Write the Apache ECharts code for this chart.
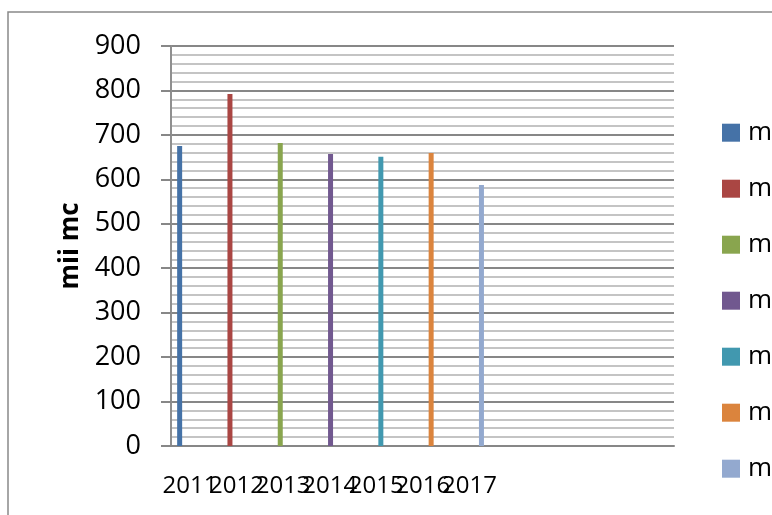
<!DOCTYPE html>
<html>
<head>
<meta charset="utf-8">
<script src="https://cdn.jsdelivr.net/npm/echarts@6/dist/echarts.min.js"></script>
<style>
html,body{margin:0;padding:0;background:#fff;}
#c{width:772px;height:515px;}
</style>
</head>
<body>
<div id="c"></div>
<script>
const years = ['2011', '2012', '2013', '2014', '2015', '2016', '2017'];
const values = [675, 792, 682, 657, 651, 659, 587];
const seriesNames = ['mii mc 2011', 'mii mc 2012', 'mii mc 2013', 'mii mc 2014', 'mii mc 2015', 'mii mc 2016', 'mii mc 2017'];
const colors = ['#4572A7', '#AA4643', '#89A54E', '#71588F', '#4198AF', '#DB843D', '#93A9CF'];
const yTicks = { min: 0, max: 900, interval: 100 };
const yTitle = 'mii mc';

const chart = echarts.init(document.getElementById('c'), null, { renderer: 'canvas' });

const series = seriesNames.map((name, i) => ({
  name: name,
  type: 'bar',
  stack: 'a',
  barWidth: 5,
  barGap: '560%',
  itemStyle: { color: colors[i] },
  data: years.map((y, j) => (j === i ? values[i] : '-')),
  xAxisIndex: 0,
  yAxisIndex: 0
}));
// empty slot series (Excel-style offset of the visible bar slot)
series.push({
  name: '_slot',
  type: 'bar',
  stack: 'b',
  barWidth: 5,
  barGap: '560%',
  data: years.map(() => '-'),
  xAxisIndex: 0,
  yAxisIndex: 0
});

const option = {
  backgroundColor: '#ffffff',
  animation: false,
  textStyle: { fontFamily: 'Open Sans' },
  graphic: [{
    type: 'rect',
    shape: { x: 8, y: 12, width: 900, height: 700 },
    style: { fill: 'none', stroke: '#898989', lineWidth: 1.5 },
    silent: true,
    z: -10
  }],
  grid: [
    { left: 171, right: 98, top: 46, bottom: 69, containLabel: false },
    { left: 166.7, width: 326, top: 46, bottom: 69, containLabel: false }
  ],
  legend: {
    orient: 'vertical',
    left: 717,
    top: 114.7,
    itemWidth: 18,
    itemHeight: 18,
    itemGap: 30,
    icon: 'rect',
    data: seriesNames,
    textStyle: { fontFamily: 'Open Sans', fontSize: 26, color: '#000', padding: [0, 0, 0, 3] }
  },
  xAxis: [{
    type: 'category',
    gridIndex: 0,
    data: years,
    max: 9,
    boundaryGap: true,
    axisLine: { show: true, lineStyle: { color: '#878787', width: 2 } },
    axisTick: { show: false },
    axisLabel: { show: false },
    splitLine: { show: false }
  }, {
    type: 'category',
    gridIndex: 1,
    data: years,
    boundaryGap: true,
    axisLine: { show: false },
    axisTick: { show: false },
    axisLabel: { show: true, fontFamily: 'Open Sans', fontSize: 24, color: '#000', margin: 28, interval: 0 },
    splitLine: { show: false }
  }],
  yAxis: [{
    type: 'value',
    gridIndex: 0,
    min: yTicks.min,
    max: yTicks.max,
    interval: yTicks.interval,
    name: yTitle,
    nameLocation: 'middle',
    nameGap: 86,
    nameTextStyle: { fontFamily: 'Open Sans', fontSize: 26, fontWeight: 'bold', color: '#000' },
    axisLine: { show: true, lineStyle: { color: '#8f8f8f', width: 2 } },
    axisTick: { show: true, length: 10, lineStyle: { color: '#878787', width: 2 } },
    axisLabel: { fontFamily: 'Open Sans', fontSize: 27, color: '#000', margin: 30 },
    splitLine: { show: true, lineStyle: { color: '#878787', width: 2 } },
    minorTick: { show: false, splitNumber: 5 },
    minorSplitLine: { show: true, lineStyle: { color: '#c4c4c4', width: 2 } }
  }, {
    type: 'value',
    gridIndex: 1,
    min: yTicks.min,
    max: yTicks.max,
    show: false,
    splitLine: { show: false }
  }],
  series: series
};
chart.setOption(option);
</script>
</body>
</html>
